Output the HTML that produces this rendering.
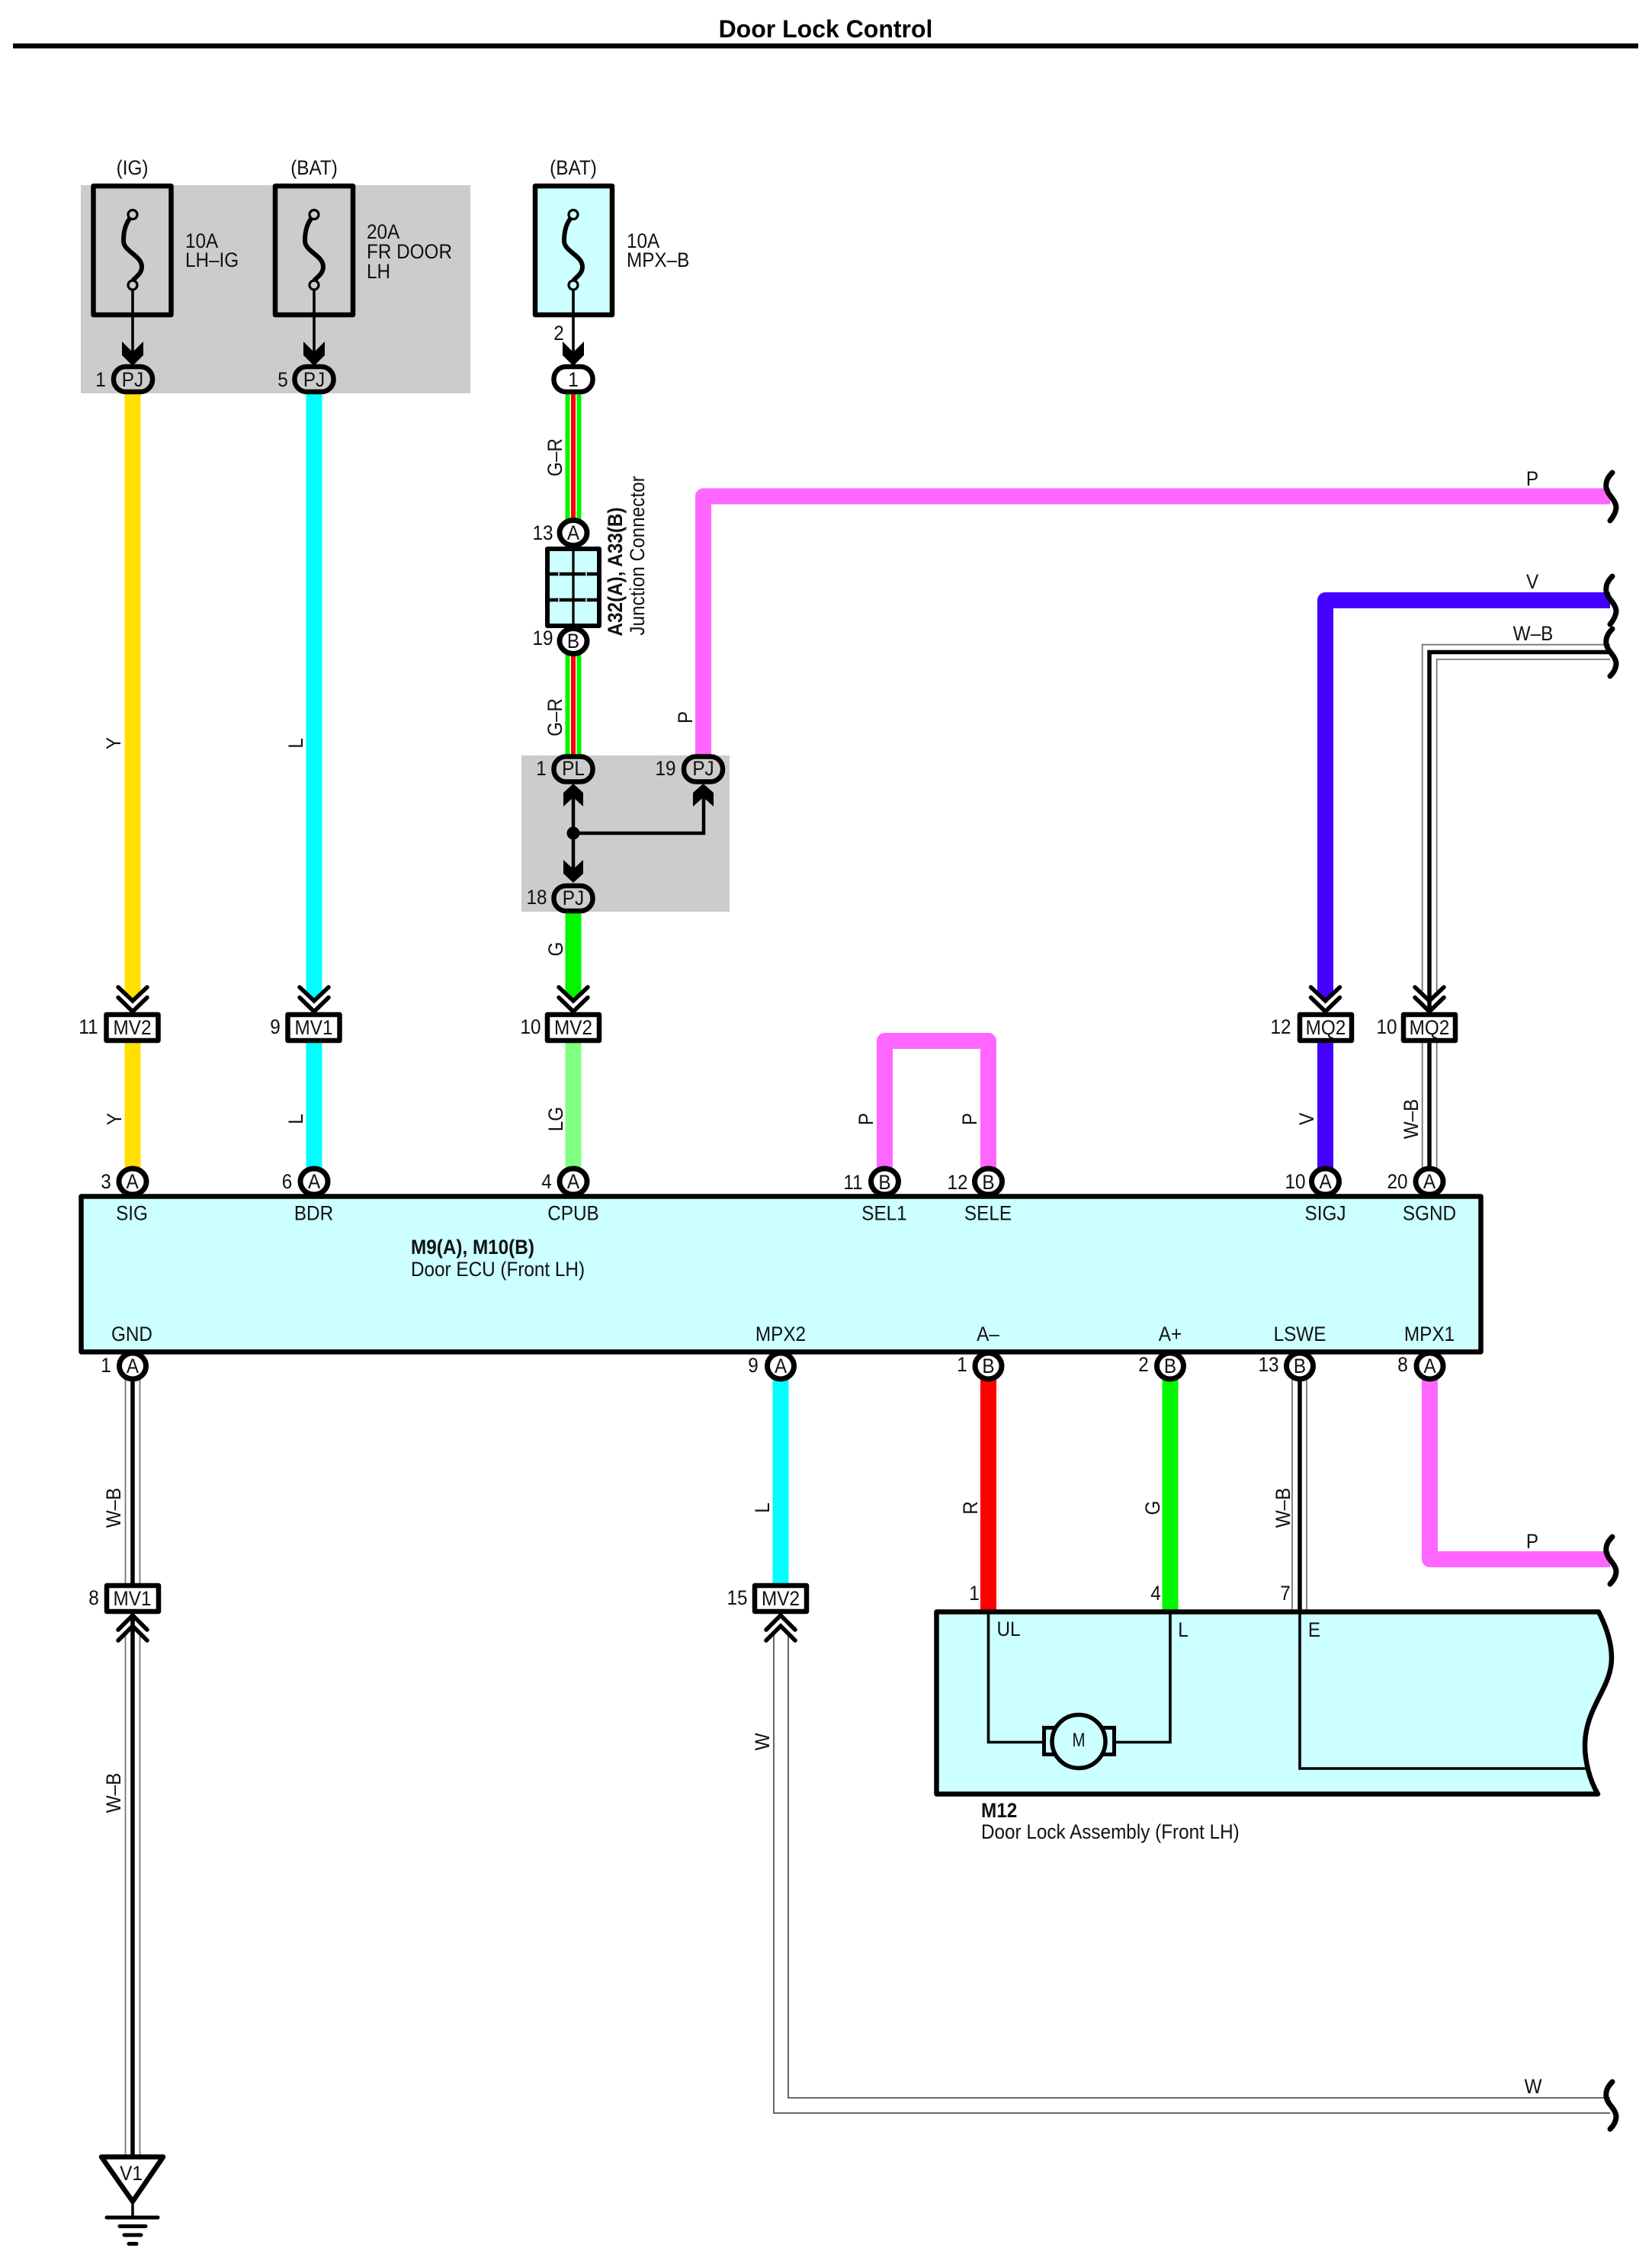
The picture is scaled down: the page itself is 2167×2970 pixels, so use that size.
<!DOCTYPE html>
<html><head><meta charset="utf-8"><title>Door Lock Control</title>
<style>
html,body{margin:0;padding:0;background:#fff}
svg{display:block}
text{font-family:"Liberation Sans",Arial,sans-serif;font-size:27px;fill:#111;text-anchor:middle;transform-box:fill-box;transform-origin:center;transform:scaleX(.9)}
text.s{text-anchor:start;transform-origin:left center}
text.b{font-weight:bold}
text.title{font-size:32px;font-weight:bold;fill:#000;transform:none}
.wp{fill:none;stroke-linejoin:round}
.g{fill:none;stroke:#777;stroke-width:1.8}
.k{fill:none;stroke:#000;stroke-width:5.5}
.chev{fill:none;stroke:#000;stroke-width:5.5;stroke-linecap:round;stroke-linejoin:miter}
.c{fill:#fff;stroke:#000;stroke-width:7}
.pl{fill:#fff;stroke:#000;stroke-width:6.5}
.pg{fill:#ccc;stroke:#000;stroke-width:6.5}
.sq{fill:none;stroke:#000;stroke-width:7;stroke-linecap:round}
.thin{fill:none;stroke:#000;stroke-width:3.6}
.fuse{fill:none;stroke:#000;stroke-width:6.5;stroke-linejoin:round}
.fs{fill:none;stroke:#000;stroke-width:6}
.fc{fill:none;stroke:#000;stroke-width:3.2}
</style></head><body>
<svg xmlns="http://www.w3.org/2000/svg" width="2167" height="2970" viewBox="0 0 2167 2970">
<rect width="2167" height="2970" fill="#fff"/>
<text class="title" x="1083" y="49">Door Lock Control</text>
<rect x="17" y="57" width="2132" height="6.5" fill="#000"/>

<!-- gray areas -->
<rect x="106" y="243" width="511" height="273" fill="#ccc"/>
<rect x="684" y="991" width="273" height="205" fill="#ccc"/>

<!-- fuses -->
<rect class="fuse" x="122.5" y="244" width="102" height="169" fill="#ccc"/>
<rect class="fuse" x="361" y="244" width="102" height="169"/>
<rect x="702" y="244" width="101" height="169" fill="#ccffff" stroke="#000" stroke-width="6.5" stroke-linejoin="round"/>
<g>
<path class="fs" d="M170,287 C164,295 162,306 162,316 C162,330 186,335 186,350 C186,358 180,362 174,368"/>
<circle class="fc" cx="174" cy="281.5" r="6"/><circle class="fc" cx="174" cy="374" r="6"/>
<path class="thin" d="M174,380V470"/>
<polygon points="160,448 174,462 188,448 188,466 174,480 160,466"/>
</g>
<g>
<path class="fs" d="M408,287 C402,295 400,306 400,316 C400,330 424,335 424,350 C424,358 418,362 412,368"/>
<circle class="fc" cx="412" cy="281.5" r="6"/><circle class="fc" cx="412" cy="374" r="6"/>
<path class="thin" d="M412,380V470"/>
<polygon points="398,448 412,462 426,448 426,466 412,480 398,466"/>
</g>
<g>
<path class="fs" d="M748,287 C742,295 740,306 740,316 C740,330 764,335 764,350 C764,358 758,362 752,368"/>
<circle class="fc" cx="752" cy="281.5" r="6"/><circle class="fc" cx="752" cy="374" r="6"/>
<path class="thin" d="M752,380V470"/>
<polygon points="738,448 752,462 766,448 766,466 752,480 738,466"/>
</g>

<!-- colored wires -->
<g fill="none" stroke-width="21" stroke-linejoin="round">
<path stroke="#ffe000" d="M174,516V1303"/><polygon fill="#ffe000" stroke="none" points="163.5,1303 184.5,1303 174,1313"/>
<path stroke="#ffe000" d="M174,1368V1535"/>
<path stroke="#00ffff" d="M412,516V1303"/><polygon fill="#00ffff" stroke="none" points="401.5,1303 422.5,1303 412,1313"/>
<path stroke="#00ffff" d="M412,1368V1535"/>
<path stroke="#00f500" d="M752,516V685M752,855V995"/>
<path stroke="#00f500" d="M752,1195V1303"/><polygon fill="#00f500" stroke="none" points="741.5,1303 762.5,1303 752,1313"/>
<path stroke="#80ff80" d="M752,1368V1535"/>
<path stroke="#ff66ff" d="M922.5,995V651H2112"/>
<path stroke="#4400ff" d="M1738.5,1303V787.5H2112"/><polygon fill="#4400ff" stroke="none" points="1728,1303 1749,1303 1738.5,1313"/>
<path stroke="#4400ff" d="M1738.5,1368V1535"/>
<path stroke="#ff66ff" d="M1160.5,1535V1365.5H1296.5V1535"/>
<path stroke="#00ffff" d="M1024,1808V2080"/>
<path stroke="#ff0000" d="M1296.5,1808V2114"/>
<path stroke="#00f500" d="M1535,1808V2114"/>
<path stroke="#ff66ff" d="M1875.5,1808V2045.5H2112"/>
</g>
<!-- G-R stripes -->
<g fill="none">
<path stroke="#fff" stroke-width="9" d="M752,516V685M752,855V995"/>
<path stroke="#ff0000" stroke-width="6" d="M752,516V685M752,855V995"/>
</g>

<!-- W-B / W wires -->
<path class="g" d="M164.5,1795V2080M183.5,1795V2080M164.5,2140V2828M183.5,2140V2828"/>
<path class="k" d="M174,1795V2080M174,2120V2828"/>
<path class="g" d="M1015,2140V2772H2112M1034,2140V2752H2112" style="stroke:#555"/>
<path class="g" d="M1695,1808V2114M1714,1808V2114"/>
<path class="k" d="M1705,1808V2114"/>
<path class="g" d="M1865.7,1300V845.7H2112M1884.7,1300V865H2112"/>
<path class="k" d="M1875,1325V855.5H2114"/>
<path class="g" d="M1865.7,1368V1535M1884.7,1368V1535"/>
<path class="k" d="M1875,1368V1535"/>

<!-- squiggles -->
<path class="sq" d="M2115,620 C2108,627 2106,633 2107,640 C2109,650 2119,655 2120,665 C2120,672 2116,678 2112,683"/>
<path class="sq" d="M2115,756 C2108,763 2106,769 2107,776 C2109,786 2119,791 2120,801 C2120,808 2116,814 2112,819"/>
<path class="sq" d="M2115,825 C2108,832 2106,838 2107,845 C2109,855 2119,860 2120,870 C2120,877 2116,883 2112,887"/>
<path class="sq" d="M2115,2016 C2108,2023 2106,2029 2107,2036 C2109,2046 2119,2051 2120,2061 C2120,2068 2116,2074 2112,2078"/>
<path class="sq" d="M2115,2731 C2108,2738 2106,2744 2107,2751 C2109,2761 2119,2766 2120,2776 C2120,2783 2116,2789 2112,2793"/>

<!-- pills -->
<rect class="pg" x="149" y="481" width="51" height="33" rx="16"/>
<rect class="pg" x="386.5" y="481" width="51" height="33" rx="16"/>
<rect class="pl" x="726.5" y="481" width="51" height="33" rx="16"/>
<rect class="pg" x="726.5" y="992.5" width="51" height="33" rx="16"/>
<rect class="pg" x="897" y="992.5" width="51" height="33" rx="16"/>
<rect class="pg" x="726.5" y="1162" width="51" height="33" rx="16"/>

<!-- junction connector -->
<ellipse class="c" cx="752" cy="699" rx="18" ry="16.5"/>
<ellipse class="c" cx="752" cy="841" rx="18" ry="16.5"/>
<rect x="718" y="720" width="68" height="101" fill="#ccffff" stroke="#000" stroke-width="6" stroke-linejoin="round"/>
<path fill="none" stroke="#000" stroke-width="3.2" d="M752,720V821"/>
<path fill="none" stroke="#000" stroke-width="4.4" d="M718,753H786M718,787H786"/>
<path fill="none" stroke="#ccffff" stroke-width="1.6" d="M733,751V755M769,751V755M733,785V789M769,785V789"/>

<!-- internal splice -->
<path fill="none" stroke="#000" stroke-width="4.5" d="M752,1040V1145M752,1093H923V1040"/>
<circle cx="752" cy="1093" r="8.5"/>
<polygon points="739,1058 752,1046 765,1058 765,1040 752,1028 739,1040"/>
<polygon points="909,1058 922.5,1046 936,1058 936,1040 922.5,1028 909,1040"/>
<polygon points="739,1128 752,1140 765,1128 765,1146 752,1158 739,1146"/>

<!-- double chevrons, downward -->
<path class="chev" d="M155,1295L174,1313L193,1295M155,1308.5L174,1327L193,1308.5"/>
<path class="chev" d="M393,1295L412,1313L431,1295M393,1308.5L412,1327L431,1308.5"/>
<path class="chev" d="M733,1295L752,1313L771,1295M733,1308.5L752,1327L771,1308.5"/>
<path class="chev" d="M1719.5,1295L1738.5,1313L1757.5,1295M1719.5,1308.5L1738.5,1327L1757.5,1308.5"/>
<path class="chev" d="M1856,1295L1875,1313L1894,1295M1856,1308.5L1875,1327L1894,1308.5"/>
<!-- double chevrons, upward -->
<path class="chev" d="M155,2138L174,2119L193,2138M155,2152L174,2133L193,2152"/>
<path class="chev" d="M1005,2138L1024,2119L1043,2138M1005,2152L1024,2133L1043,2152"/>

<!-- inline boxes -->
<g fill="#fff" stroke="#000" stroke-width="6.5" stroke-linejoin="round">
<rect x="139.5" y="1331" width="68" height="34"/>
<rect x="377.5" y="1331" width="68" height="34"/>
<rect x="718" y="1331" width="68" height="34"/>
<rect x="1705" y="1331" width="68" height="34"/>
<rect x="1841" y="1331" width="68" height="34"/>
<rect x="140" y="2080" width="68" height="34"/>
<rect x="990" y="2080" width="68" height="34"/>
</g>

<!-- connector circles on ECU -->
<g>
<ellipse class="c" cx="174" cy="1550" rx="18" ry="17"/>
<ellipse class="c" cx="412" cy="1550" rx="18" ry="17"/>
<ellipse class="c" cx="752" cy="1550" rx="18" ry="17"/>
<ellipse class="c" cx="1160.5" cy="1550" rx="18" ry="17"/>
<ellipse class="c" cx="1296.5" cy="1550" rx="18" ry="17"/>
<ellipse class="c" cx="1738.5" cy="1550" rx="18" ry="17"/>
<ellipse class="c" cx="1875" cy="1550" rx="18" ry="17"/>
<ellipse class="c" cx="174" cy="1792" rx="17.5" ry="17"/>
<ellipse class="c" cx="1024" cy="1792" rx="17.5" ry="17"/>
<ellipse class="c" cx="1296.5" cy="1792" rx="17.5" ry="17"/>
<ellipse class="c" cx="1535" cy="1792" rx="17.5" ry="17"/>
<ellipse class="c" cx="1705" cy="1792" rx="17.5" ry="17"/>
<ellipse class="c" cx="1875.5" cy="1792" rx="17.5" ry="17"/>
</g>

<!-- ECU -->
<rect x="106.5" y="1569.5" width="1836" height="204" fill="#ccffff" stroke="#000" stroke-width="6.5" stroke-linejoin="round"/>

<!-- M12 -->
<path d="M1228.5,2114.5H2097 C2110,2140 2114,2160 2114,2175 C2114,2215 2079,2240 2079,2290 C2079,2310 2085,2335 2096,2353.5H1228.5Z" fill="#ccffff" stroke="#000" stroke-width="6.5" stroke-linejoin="round"/>
<path fill="none" stroke="#000" stroke-width="3.6" d="M1296.5,2116V2285.5H1370M1460,2285.5H1535V2116M1705,2116V2320H2080"/>
<rect x="1369.5" y="2266.5" width="92" height="35" fill="#ccffff" stroke="#000" stroke-width="5"/>
<circle cx="1415" cy="2284.5" r="35" fill="#ccffff" stroke="#000" stroke-width="5.5"/>

<!-- triangle & ground -->
<polygon points="133,2829.5 214,2829.5 174,2888" fill="#fff" stroke="#000" stroke-width="6.5" stroke-linejoin="round"/>
<path fill="none" stroke="#000" stroke-width="3.5" d="M174,2888V2909"/>
<g stroke="#000" stroke-width="5" stroke-linecap="round">
<path d="M140,2909H207M157,2920.5H191M163,2932H185M169,2943.5H179"/>
</g>

<!-- labels -->
<text x="173.6" y="229">(IG)</text>
<text x="412" y="229">(BAT)</text>
<text x="752" y="229">(BAT)</text>
<text class="s" x="243" y="325">10A</text>
<text class="s" x="243" y="350">LH–IG</text>
<text class="s" x="481" y="313">20A</text>
<text class="s" x="481" y="339">FR DOOR</text>
<text class="s" x="481" y="365">LH</text>
<text class="s" x="822" y="325">10A</text>
<text class="s" x="822" y="350">MPX–B</text>
<text x="733" y="446">2</text>
<text x="132" y="507">1</text><text x="174" y="507">PJ</text>
<text x="371" y="507">5</text><text x="412" y="507">PJ</text>
<text x="752" y="507">1</text>
<text x="712" y="708">13</text><text x="752" y="708">A</text>
<text x="712" y="846">19</text><text x="752" y="850">B</text>
<text x="710" y="1017">1</text><text x="752" y="1017">PL</text>
<text x="873" y="1017">19</text><text x="922.5" y="1017">PJ</text>
<text x="704" y="1186">18</text><text x="752" y="1187">PJ</text>
<text x="2010" y="637">P</text>
<text x="2010" y="772">V</text>
<text x="2011" y="840">W–B</text>
<text x="2010" y="2031">P</text>
<text x="2011" y="2746">W</text>

<text x="116" y="1356">11</text><text x="173.5" y="1357">MV2</text>
<text x="361" y="1356">9</text><text x="411.5" y="1357">MV1</text>
<text x="696" y="1356">10</text><text x="752" y="1357">MV2</text>
<text x="1680" y="1356">12</text><text x="1739" y="1357">MQ2</text>
<text x="1819" y="1356">10</text><text x="1875" y="1357">MQ2</text>

<text x="139" y="1559">3</text><text x="173.5" y="1559">A</text>
<text x="376.5" y="1559">6</text><text x="412" y="1559">A</text>
<text x="717" y="1559">4</text><text x="752" y="1559">A</text>
<text x="1119" y="1560">11</text><text x="1160.5" y="1560">B</text>
<text x="1256" y="1560">12</text><text x="1296.5" y="1560">B</text>
<text x="1699" y="1559">10</text><text x="1738.5" y="1559">A</text>
<text x="1833" y="1559">20</text><text x="1875" y="1559">A</text>

<text x="173" y="1600.5">SIG</text>
<text x="411.5" y="1600.5">BDR</text>
<text x="752" y="1600.5">CPUB</text>
<text x="1160" y="1600.5">SEL1</text>
<text x="1296" y="1600.5">SELE</text>
<text x="1738.5" y="1600.5">SIGJ</text>
<text x="1875" y="1600.5">SGND</text>
<text class="s b" x="539" y="1645">M9(A), M10(B)</text>
<text class="s" x="539" y="1674">Door ECU (Front LH)</text>
<text x="173" y="1759">GND</text>
<text x="1024" y="1759">MPX2</text>
<text x="1296" y="1759">A–</text>
<text x="1535" y="1759">A+</text>
<text x="1705" y="1759">LSWE</text>
<text x="1875" y="1759">MPX1</text>

<text x="139" y="1800">1</text><text x="174" y="1801">A</text>
<text x="988" y="1800">9</text><text x="1024" y="1801">A</text>
<text x="1262" y="1799">1</text><text x="1296.5" y="1801">B</text>
<text x="1500" y="1799">2</text><text x="1535" y="1801">B</text>
<text x="1664" y="1799">13</text><text x="1705" y="1801">B</text>
<text x="1840" y="1799">8</text><text x="1875.5" y="1801">A</text>

<text x="1278" y="2099">1</text><text x="1516" y="2099">4</text><text x="1686" y="2099">7</text>
<text x="123" y="2105">8</text><text x="173.5" y="2106">MV1</text>
<text x="967" y="2105">15</text><text x="1024" y="2106">MV2</text>
<text x="1323" y="2146">UL</text>
<text x="1552" y="2147">L</text>
<text x="1724" y="2147">E</text>
<text x="1415" y="2291" style="font-size:25px;transform:scaleX(.82)">M</text>
<text class="s b" x="1287" y="2384">M12</text>
<text class="s" x="1287" y="2412">Door Lock Assembly (Front LH)</text>
<text x="172" y="2860">V1</text>

<!-- rotated labels -->
<g transform="translate(737,600) rotate(-90)"><text>G–R</text></g>
<g transform="translate(737,941) rotate(-90)"><text>G–R</text></g>
<g transform="translate(816,750) rotate(-90)"><text class="b">A32(A), A33(B)</text></g>
<g transform="translate(845,729) rotate(-90)"><text>Junction Connector</text></g>
<g transform="translate(908,941) rotate(-90)"><text>P</text></g>
<g transform="translate(158,975) rotate(-90)"><text>Y</text></g>
<g transform="translate(397,975) rotate(-90)"><text>L</text></g>
<g transform="translate(738,1245) rotate(-90)"><text>G</text></g>
<g transform="translate(159,1468) rotate(-90)"><text>Y</text></g>
<g transform="translate(397,1468) rotate(-90)"><text>L</text></g>
<g transform="translate(738,1468) rotate(-90)"><text>LG</text></g>
<g transform="translate(1145,1468) rotate(-90)"><text>P</text></g>
<g transform="translate(1281,1468) rotate(-90)"><text>P</text></g>
<g transform="translate(1723,1468) rotate(-90)"><text>V</text></g>
<g transform="translate(1860,1468) rotate(-90)"><text>W–B</text></g>
<g transform="translate(158,1978) rotate(-90)"><text>W–B</text></g>
<g transform="translate(158,2352) rotate(-90)"><text>W–B</text></g>
<g transform="translate(1009,1978) rotate(-90)"><text>L</text></g>
<g transform="translate(1009,2285) rotate(-90)"><text>W</text></g>
<g transform="translate(1282,1978) rotate(-90)"><text>R</text></g>
<g transform="translate(1521,1978) rotate(-90)"><text>G</text></g>
<g transform="translate(1692,1978) rotate(-90)"><text>W–B</text></g>
</svg>
</body></html>
